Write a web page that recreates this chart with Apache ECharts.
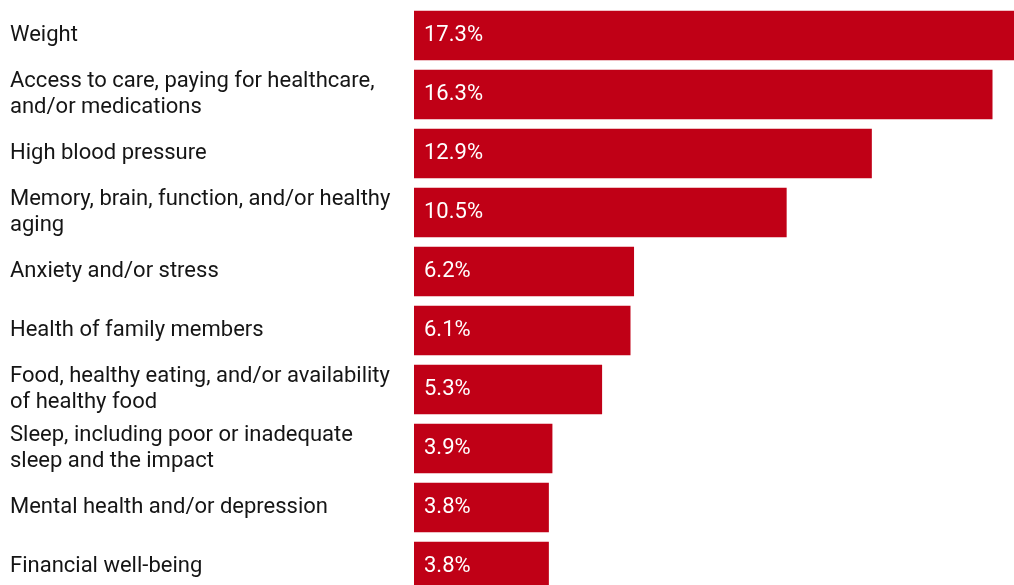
<!DOCTYPE html>
<html><head><meta charset="utf-8">
<script src="https://cdn.jsdelivr.net/npm/echarts@6/dist/echarts.min.js"></script>
<style>html,body{margin:0;padding:0;background:#fff}#c{width:1014px;height:585px}</style>
</head><body><div id="c"></div>
<script>
const categories = [
  "Weight",
  "Access to care, paying for healthcare,\nand/or medications",
  "High blood pressure",
  "Memory, brain, function, and/or healthy\naging",
  "Anxiety and/or stress",
  "Health of family members",
  "Food, healthy eating, and/or availability\nof healthy food",
  "Sleep, including poor or inadequate\nsleep and the impact",
  "Mental health and/or depression",
  "Financial well-being"
];
const values = [17.3, 16.3, 12.9, 10.5, 6.2, 6.1, 5.3, 3.9, 3.8, 3.8];

const chart = echarts.init(document.getElementById('c'));
chart.setOption({
  animation: false,
  backgroundColor: '#ffffff',
  grid: { left: 414, top: 6, width: 614, height: 590, containLabel: false, outerBoundsMode: 'none' },
  xAxis: { type: 'value', min: 0, max: 17.3, show: false },
  yAxis: {
    type: 'category', data: categories, inverse: true,
    axisLine: { show: false }, axisTick: { show: false }, splitLine: { show: false },
    axisLabel: {
      align: 'left', margin: 404, color: '#151515',
      fontFamily: 'Roboto', fontSize: 22, lineHeight: 26, padding: [4, 0, 0, 0]
    }
  },
  series: [{
    type: 'bar', data: values, barCategoryGap: '16%',
    itemStyle: { color: '#c00016' },
    label: {
      show: true, position: 'insideLeft', distance: 10,
      color: '#ffffff', fontFamily: 'Roboto', fontSize: 22, padding: [4, 0, 0, 0],
      formatter: p => p.value.toFixed(1) + '%'
    }
  }]
});
</script></body></html>
